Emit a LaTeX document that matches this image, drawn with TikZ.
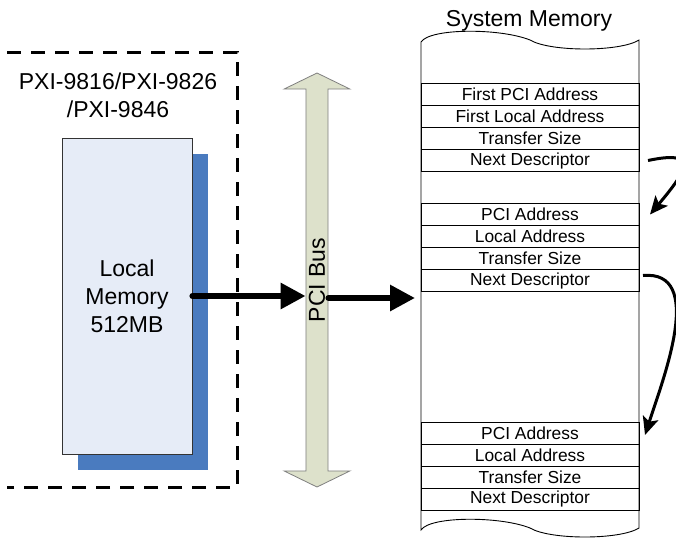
\documentclass[tikz,border=0pt]{standalone}
\usepackage{fontspec}
\setmainfont{Liberation Sans}
\usetikzlibrary{arrows.meta,positioning,shapes.arrows,shadows}
\definecolor{memfill}{HTML}{E6ECF7}
\definecolor{memshade}{HTML}{4A7BBF}
\definecolor{busfill}{HTML}{DDE1CB}
\definecolor{busline}{HTML}{7F7F7F}
\newcommand{\bigtext}{\fontsize{23}{28}\selectfont}
\newcommand{\rowtext}{\fontsize{17.4}{19}\selectfont}

\begin{document}
\begin{tikzpicture}[x=1pt, y=-1pt,
  row/.style={draw, line width=0.9pt, minimum width=218pt, minimum height=22pt, inner sep=0pt, outer sep=0pt, font=\rowtext},
  big/.style={font=\bigtext, align=center},
  bigarr/.style={-{Triangle[length=25pt, width=25pt]}, line width=6pt, line cap=round},
  nextarr/.style={-{Stealth[length=18pt, width=16pt, inset=4pt]}, line width=3pt}]
\useasboundingbox (0,0) rectangle (676,538);
% board
\draw[line width=3pt, dash pattern=on 14pt off 10pt] (7,52) -- (237,52) -- (237,487) -- (7,487);
\node[big] (board) at (118,95) {PXI-9816/PXI-9826\\/PXI-9846};
\node[big, draw=black!80, line width=0.8pt, fill=memfill, minimum width=130pt, minimum height=316pt,
  general shadow={fill=memshade, shadow xshift=16pt, shadow yshift=-16pt}] (lmem) at (127,296) {Local\\Memory\\512MB};
% bus
\node[double arrow, draw=busline, line width=0.8pt, fill=busfill, rotate=90, font=\bigtext,
  minimum height=414pt, minimum width=66pt, double arrow head extend=17pt, double arrow tip angle=128,
  inner sep=0pt] (bus) at (317,280) {PCI Bus};
% system memory
\node[font=\fontsize{23}{25}\selectfont] (sysmem) at (529,21) {System Memory};
\draw[line width=0.9pt] (421,42) .. controls (430,28) and (500,28) .. (530,40)
  .. controls (550,52) and (620,52) .. (639,40) -- (639,528)
  .. controls (620,540) and (550,540) .. (530,528)
  .. controls (500,516) and (430,516) .. (421,530) -- cycle;
\node[row] (fpci) at (530,94.5) {First PCI Address};
\node[row, below=0pt of fpci] (flocal) {First Local Address};
\node[row, below=0pt of flocal] (size1) {Transfer Size};
\node[row, below=0pt of size1] (next1) {Next Descriptor};
\node[row] (pci2) at (530,214.5) {PCI Address};
\node[row, below=0pt of pci2] (local2) {Local Address};
\node[row, below=0pt of local2] (size2) {Transfer Size};
\node[row, below=0pt of size2] (next2) {Next Descriptor};
\node[row] (pci3) at (530,433) {PCI Address};
\node[row, below=0pt of pci3] (local3) {Local Address};
\node[row, below=0pt of local3] (size3) {Transfer Size};
\node[row, below=0pt of size3] (next3) {Next Descriptor};
% transfers
\draw[bigarr] (lmem.east) -- (lmem.east -| bus.north);
\draw[bigarr] ([yshift=-2pt]lmem.east -| bus.south) -- ([xshift=-6pt, yshift=-2pt]lmem.east -| fpci.west);
\draw[nextarr] ([xshift=9pt]next1.east) to[out=12, in=50, looseness=2.6] ([xshift=11pt]pci2.east);
\draw[nextarr] ([xshift=4pt, yshift=5pt]next2.east) to[out=5, in=72, looseness=1] ([xshift=6pt, yshift=-2pt]pci3.east);
\end{tikzpicture}
\end{document}
